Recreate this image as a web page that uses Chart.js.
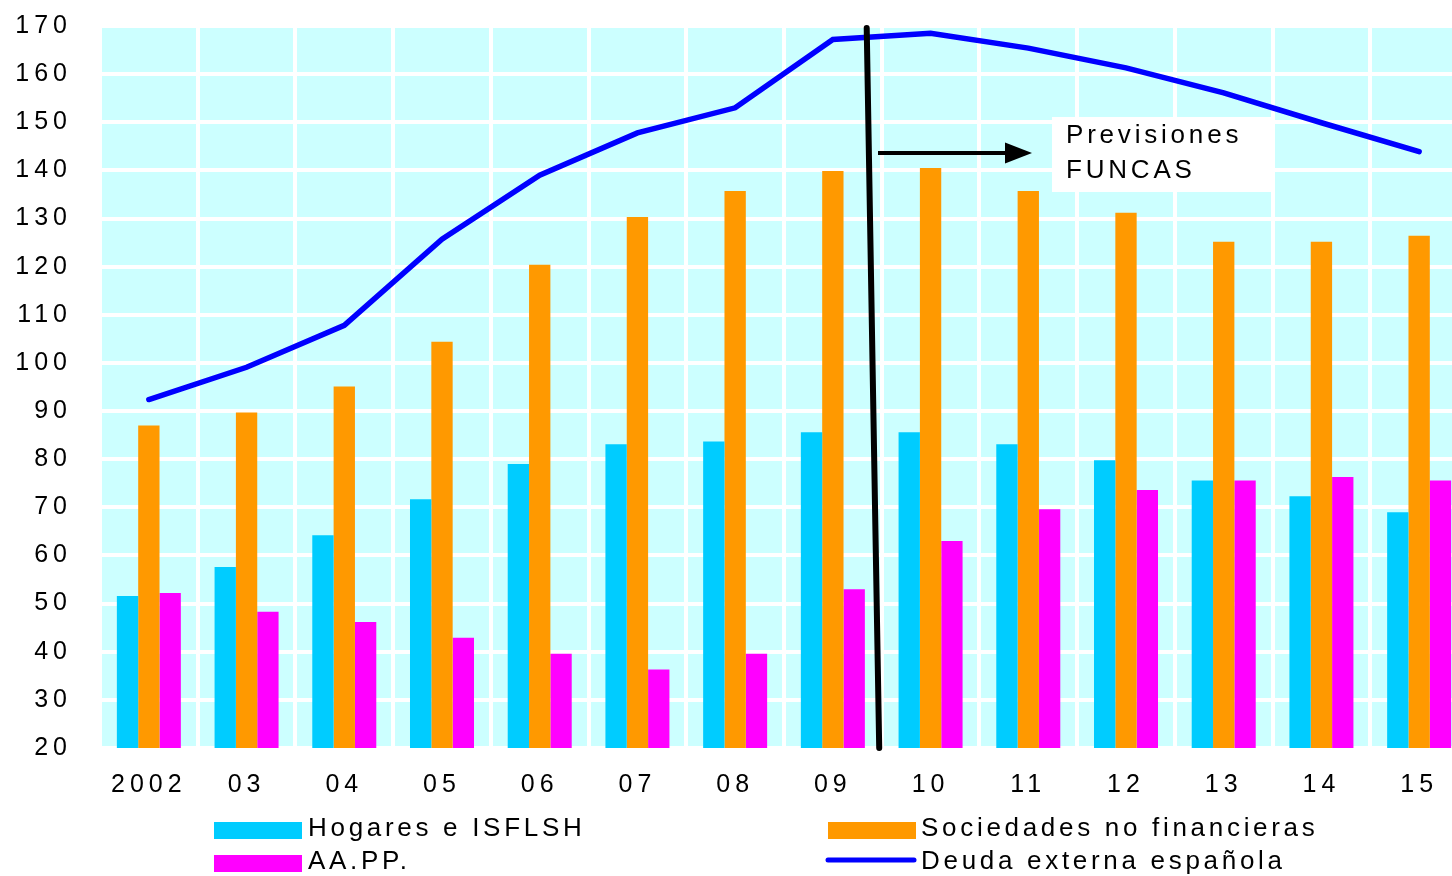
<!DOCTYPE html>
<html>
<head>
<meta charset="utf-8">
<script src="https://cdn.jsdelivr.net/npm/chart.js@4.4.1/dist/chart.umd.min.js"></script>
<style>
  html, body { margin:0; padding:0; background:#fff; overflow:hidden; }
  #wrap { width:1452px; height:876px; overflow:hidden; position:relative; }
  canvas { display:block; }
</style>
</head>
<body>
<div id="wrap"><canvas id="c" width="1468" height="876" style="width:1468px;height:876px"></canvas></div>
<script>
// ---- data ----
const categories = ['2002','03','04','05','06','07','08','09','10','11','12','13','14','15'];
const hogares    = [51.6, 57.6, 64.2, 71.7, 79.0, 83.1, 83.7, 85.6, 85.6, 83.1, 79.8, 75.6, 72.3, 69.0];
const sociedades = [87.0, 89.7, 95.1, 104.4, 120.4, 130.3, 135.7, 139.9, 140.5, 135.7, 131.2, 125.2, 125.2, 126.4];
const aapp       = [52.2, 48.3, 46.2, 42.9, 39.6, 36.3, 39.6, 53.0, 63.0, 69.6, 73.6, 75.6, 76.3, 75.6];
const deudaExt   = [92.4, 99.1, 107.8, 125.7, 139.0, 147.8, 153.0, 167.2, 168.5, 165.4, 161.3, 156.1, 149.9, 143.9];
const seriesNames = ['Hogares e ISFLSH', 'Sociedades no financieras', 'AA.PP.', 'Deuda externa española'];
const noteLines = ['Previsiones', 'FUNCAS'];
const yMin = 20, yMax = 170, yStep = 10;

const FONT = "'Liberation Sans', Arial, sans-serif";

const bgPlugin = {
  id: 'bg',
  beforeDraw(chart) {
    const { ctx, chartArea: a } = chart;
    ctx.save();
    ctx.fillStyle = '#CCFFFF';
    ctx.fillRect(a.left, a.top, a.right - a.left, a.bottom - a.top);
    ctx.restore();
    ctx.letterSpacing = '5px';
  }
};

const notePlugin = {
  id: 'note',
  afterDatasetsDraw(chart) {
    const { ctx, scales: { x, y } } = chart;
    const bnd = (x.getPixelForValue(7) + x.getPixelForValue(8)) / 2;
    ctx.save();
    ctx.letterSpacing = '0px';
    // vertical separator
    ctx.strokeStyle = '#000';
    ctx.lineWidth = 6;
    ctx.lineCap = 'round';
    ctx.beginPath();
    ctx.moveTo(bnd - 15, y.getPixelForValue(yMax) + 2);
    ctx.lineTo(bnd - 2.5, y.getPixelForValue(yMin));
    ctx.stroke();
    // arrow
    const ay = 153;
    ctx.lineWidth = 4;
    ctx.lineCap = 'butt';
    ctx.beginPath();
    ctx.moveTo(878, ay);
    ctx.lineTo(1008, ay);
    ctx.stroke();
    ctx.fillStyle = '#000';
    ctx.beginPath();
    ctx.moveTo(1005, ay - 10.5);
    ctx.lineTo(1032, ay);
    ctx.lineTo(1005, ay + 10.5);
    ctx.closePath();
    ctx.fill();
    // text box
    ctx.fillStyle = '#fff';
    ctx.fillRect(1052, 117, 219, 75);
    ctx.fillStyle = '#000';
    ctx.font = '26px ' + FONT;
    ctx.letterSpacing = '3.8px';
    ctx.textBaseline = 'alphabetic';
    ctx.textAlign = 'left';
    ctx.fillText(noteLines[0], 1066, 143);
    ctx.fillText(noteLines[1], 1066, 178);
    ctx.restore();
  }
};

const legendPlugin = {
  id: 'customLegend',
  afterDraw(chart) {
    const { ctx } = chart;
    const ds = chart.data.datasets;
    const items = [
      { d: ds[0], bx: 214, by: 822, tx: 308, ty: 829 },
      { d: ds[1], bx: 828, by: 822, tx: 921, ty: 829 },
      { d: ds[2], bx: 214, by: 855, tx: 308, ty: 862 },
      { d: ds[3], bx: 826, by: 855, tx: 921, ty: 862 }
    ];
    ctx.save();
    ctx.font = '26px ' + FONT;
    ctx.letterSpacing = '3.7px';
    ctx.textBaseline = 'middle';
    ctx.textAlign = 'left';
    items.forEach(it => {
      if (it.d.type === 'line') {
        ctx.strokeStyle = it.d.borderColor;
        ctx.lineWidth = 5;
        ctx.lineCap = 'round';
        ctx.beginPath();
        ctx.moveTo(it.bx + 2, it.ty - 2);
        ctx.lineTo(it.bx + 88, it.ty - 2);
        ctx.stroke();
      } else {
        ctx.fillStyle = it.d.backgroundColor;
        ctx.fillRect(it.bx, it.by, 88, 17);
      }
      ctx.fillStyle = '#000';
      ctx.fillText(it.d.label, it.tx, it.ty);
    });
    ctx.restore();
  }
};

new Chart(document.getElementById('c'), {
  data: {
    labels: categories,
    datasets: [
      { type: 'bar', label: seriesNames[0], data: hogares, backgroundColor: '#00CCFF', order: 1,
        categoryPercentage: 0.655, barPercentage: 1.0 },
      { type: 'bar', label: seriesNames[1], data: sociedades, backgroundColor: '#FF9900', order: 1,
        categoryPercentage: 0.655, barPercentage: 1.0 },
      { type: 'bar', label: seriesNames[2], data: aapp, backgroundColor: '#FF00FF', order: 1,
        categoryPercentage: 0.655, barPercentage: 1.0 },
      { type: 'line', label: seriesNames[3], data: deudaExt, borderColor: '#0000FF', backgroundColor: '#0000FF',
        borderWidth: 5.5, pointRadius: 0, tension: 0, borderCapStyle: 'round', borderJoinStyle: 'miter', order: 0 }
    ]
  },
  options: {
    responsive: false,
    animation: false,
    devicePixelRatio: 1,
    layout: { padding: { top: 26, left: 0, right: 0, bottom: 0 } },
    plugins: { legend: { display: false }, tooltip: { enabled: false } },
    scales: {
      x: {
        offset: true,
        grid: { color: '#FFFFFF', lineWidth: 4, drawTicks: false, offset: true },
        border: { display: false },
        ticks: { color: '#000', font: { family: FONT, size: 25 }, padding: 22, maxRotation: 0, autoSkip: false },
        afterFit(s) { s.height = 128; s.paddingLeft = 0; s.paddingRight = 0; }
      },
      y: {
        min: yMin, max: yMax,
        grid: { color: '#FFFFFF', lineWidth: 4, drawTicks: false },
        border: { display: false },
        ticks: { stepSize: yStep, color: '#000', font: { family: FONT, size: 25 }, padding: 28 },
        afterFit(s) { s.width = 100; s.paddingTop = 0; s.paddingBottom = 0; }
      }
    }
  },
  plugins: [bgPlugin, notePlugin, legendPlugin]
});
</script>
</body>
</html>
